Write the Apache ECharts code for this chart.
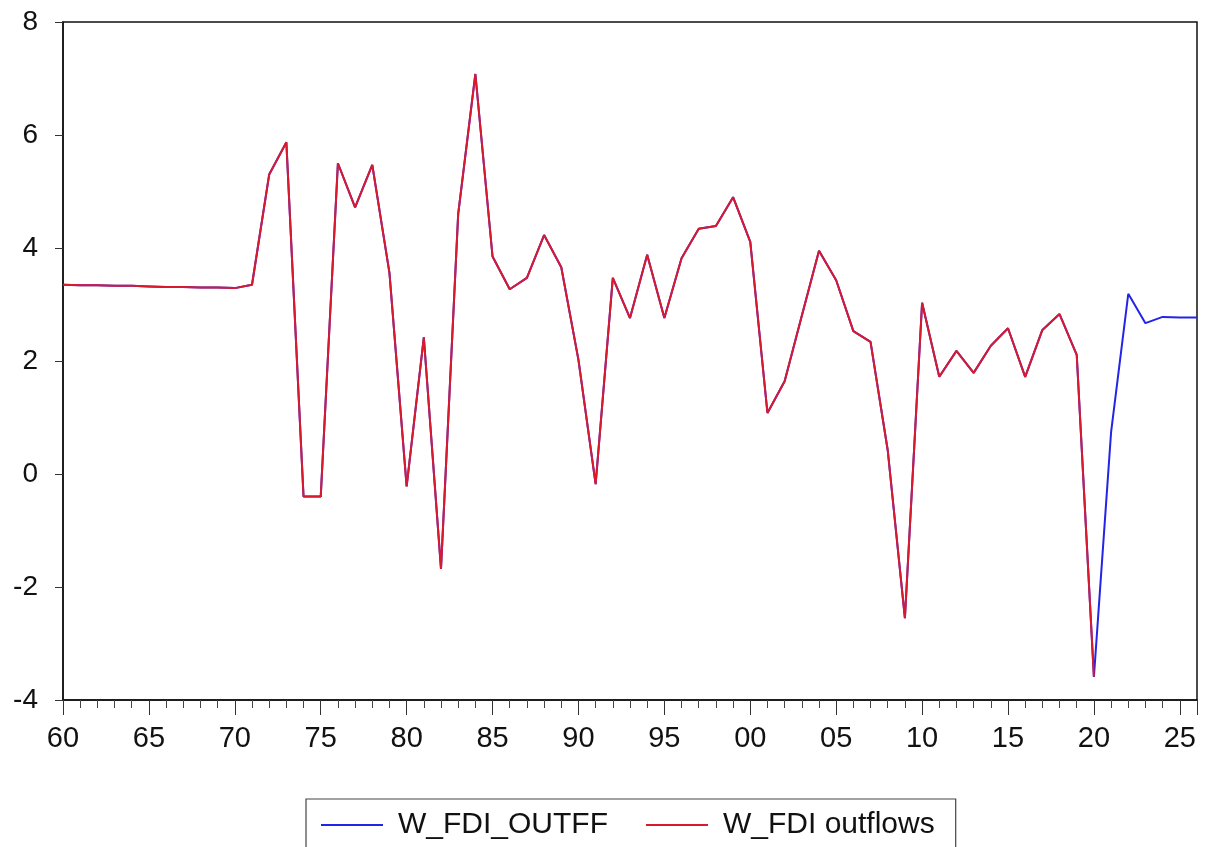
<!DOCTYPE html>
<html>
<head>
<meta charset="utf-8">
<script src="https://cdn.jsdelivr.net/npm/echarts@6/dist/echarts.min.js"></script>
<style>
html,body{margin:0;padding:0;background:#fff;}
#chart{width:1212px;height:847px;}
</style>
</head>
<body>
<div id="chart"></div>
<script>
// Years 1960..2026
const years = [];
for (let y = 1960; y <= 2026; y++) years.push(y);

// W_FDI outflows (red), 1960..2020
const fdiOutflows = [
  3.35, 3.34, 3.34, 3.33, 3.33, 3.32, 3.31, 3.31, 3.30, 3.30,
  3.29, 3.35, 5.30, 5.87, -0.40, -0.40, 5.50, 4.72, 5.47, 3.56,
  -0.22, 2.42, -1.68, 4.60, 7.08, 3.85, 3.27, 3.47, 4.23, 3.66,
  2.02, -0.18, 3.47, 2.76, 3.88, 2.76, 3.82, 4.34, 4.39, 4.90,
  4.11, 1.08, 1.64, 2.80, 3.95, 3.43, 2.53, 2.34, 0.42, -2.55,
  3.03, 1.72, 2.18, 1.79, 2.27, 2.58, 1.72, 2.55, 2.83, 2.11,
  -3.59
];

// W_FDI_OUTFF (blue), 1960..2026
const fdiOutff = [
  3.35, 3.34, 3.34, 3.33, 3.33, 3.32, 3.31, 3.31, 3.30, 3.30,
  3.29, 3.35, 5.30, 5.87, -0.40, -0.40, 5.50, 4.72, 5.47, 3.56,
  -0.22, 2.42, -1.68, 4.60, 7.08, 3.85, 3.27, 3.47, 4.23, 3.66,
  2.02, -0.18, 3.47, 2.76, 3.88, 2.76, 3.82, 4.34, 4.39, 4.90,
  4.11, 1.08, 1.64, 2.80, 3.95, 3.43, 2.53, 2.34, 0.42, -2.55,
  3.03, 1.72, 2.18, 1.79, 2.27, 2.58, 1.72, 2.55, 2.83, 2.11,
  -3.59, 0.74, 3.19, 2.67, 2.78, 2.77, 2.77
];

const seriesNames = ['W_FDI_OUTFF', 'W_FDI outflows'];
const yTicks = { min: -4, max: 8, interval: 2 };

const font = 'Liberation Sans, Arial, sans-serif';
const chart = echarts.init(document.getElementById('chart'), null, { renderer: 'canvas' });

chart.setOption({
  animation: false,
  backgroundColor: '#ffffff',
  grid: {
    left: 63, right: 15, top: 22, bottom: 147,
    show: true, borderColor: '#111', borderWidth: 1.5, backgroundColor: 'transparent'
  },
  legend: {
    data: seriesNames,
    left: 306,
    top: 799,
    padding: [11, 21, 40, 15],
    borderColor: '#444',
    borderWidth: 1.2,
    itemGap: 38,
    itemWidth: 62,
    itemHeight: 2,
    icon: 'rect',
    textStyle: { fontFamily: font, fontSize: 30, color: '#111', padding: [0, 0, 0, 10] }
  },
  xAxis: {
    type: 'value',
    min: 1960, max: 2026, interval: 5,
    axisLine: { show: true, onZero: false, lineStyle: { color: '#111', width: 1.5 } },
    axisTick: { show: true, length: 15, lineStyle: { color: '#333', width: 1 } },
    minorTick: { show: true, splitNumber: 5, length: 8, lineStyle: { color: '#444', width: 1 } },
    splitLine: { show: false },
    minorSplitLine: { show: false },
    axisLabel: {
      margin: 24, fontFamily: font, fontSize: 29, color: '#111',
      showMaxLabel: false,
      formatter: v => (v % 5 === 0 ? String(v % 100).padStart(2, '0') : '')
    }
  },
  yAxis: {
    type: 'value',
    min: yTicks.min, max: yTicks.max, interval: yTicks.interval,
    axisLine: { show: true, onZero: false, lineStyle: { color: '#111', width: 1.5 } },
    axisTick: { show: true, length: 8, lineStyle: { color: '#333' } },
    splitLine: { show: false },
    axisLabel: { margin: 25, fontFamily: font, fontSize: 28, color: '#111' }
  },
  series: [
    {
      name: seriesNames[0], type: 'line', symbol: 'none',
      color: '#2424e6',
      lineStyle: { width: 2, color: '#2424e6' },
      data: years.map((y, i) => [y, fdiOutff[i]])
    },
    {
      name: seriesNames[1], type: 'line', symbol: 'none',
      color: '#d91a2e',
      lineStyle: { width: 2, color: '#d91a2e' },
      data: fdiOutflows.map((v, i) => [years[i], v])
    }
  ]
});
</script>
</body>
</html>
